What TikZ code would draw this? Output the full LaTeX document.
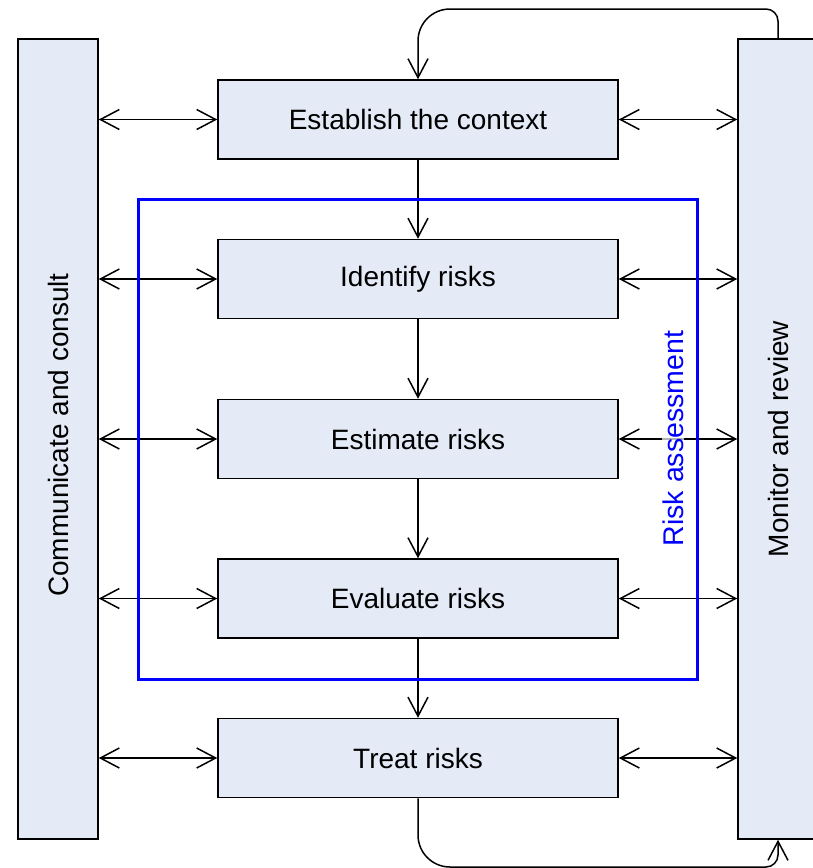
\documentclass[tikz,border=0pt]{standalone}
\usepackage{fontspec}
\setmainfont{Liberation Sans}
\usetikzlibrary{arrows.meta}
\definecolor{boxfill}{RGB}{228,234,246}
\definecolor{riskblue}{RGB}{0,0,255}
\tikzset{
  tip/.tip={Straight Barb[length=19pt,width=20pt]},
  box/.style={draw=black, line width=1.5pt, fill=boxfill, minimum width=400pt, minimum height=79pt, inner sep=0pt, font=\fontsize{28}{34}\selectfont},
  sidebox/.style={draw=black, line width=1.5pt, fill=boxfill, minimum width=80pt, minimum height=800pt, inner sep=0pt},
  sidetext/.style={rotate=90, font=\fontsize{28}{34}\selectfont, inner sep=0pt},
  dconn/.style={line width=1.5pt, tip-tip},
  sconn/.style={line width=1.5pt, -tip},
  riskframe/.style={draw=riskblue, line width=3pt},
}
\begin{document}
\begin{tikzpicture}[x=1pt,y=-1pt]
\useasboundingbox (0,0) rectangle (813,868);
\clip (0,0) rectangle (813,868);
% side boxes
\node[sidebox] (L) at (58,439) {};
\node[sidetext] (Lt) at (58,435) {Communicate and consult};
\node[sidebox] (R) at (778,439) {};
\node[sidetext] (Rt) at (778,439) {Monitor and review};
% main boxes
\node[box] (E) at (418,119.5) {Establish the context};
\node[box] (I) at (418,279) {Identify risks};
\node[box] (S) at (418,439) {Estimate risks};
\node[box] (V) at (418,598.5) {Evaluate risks};
\node[box] (T) at (418,758) {Treat risks};
% horizontal double arrows
\foreach \n in {E,I,S,V,T}{
  \draw[dconn] (L.east |- \n.west) -- (\n.west);
  \draw[dconn] (\n.east) -- (R.west |- \n.east);
}
% vertical arrows
\draw[sconn] (E.south) -- (I.north);
\draw[sconn] (I.south) -- (S.north);
\draw[sconn] (S.south) -- (V.north);
\draw[sconn] (V.south) -- (T.north);
% feedback loops
\coordinate (tr) at (778,9);
\coordinate (tl) at (418,9);
\coordinate (br) at (778,867);
\coordinate (bl) at (418,867);
\draw[sconn] (R.north) [rounded corners=12pt] -- (tr) [rounded corners=32pt] -- (tl) -- (E.north);
\draw[sconn] (T.south) [rounded corners=32pt] -- (bl) [rounded corners=12pt] -- (br) -- (R.south);
% risk assessment frame
\node[rotate=90, text=riskblue, fill=white, fill opacity=0.7, text opacity=1, inner sep=1pt, font=\fontsize{28.5}{34}\selectfont] (RA) at (673,438.5) {Risk assessment};
\coordinate (fa) at (138,199);
\coordinate (fb) at (697,679);
\draw[riskframe] (fa) rectangle (fb);
\end{tikzpicture}
\end{document}
